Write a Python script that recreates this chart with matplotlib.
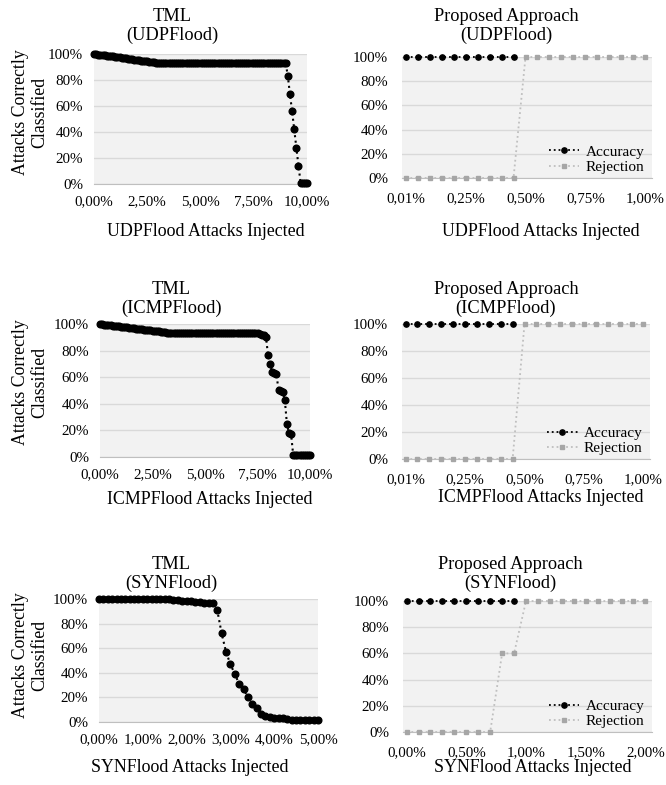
import numpy as np
import matplotlib
matplotlib.use('Agg')
import matplotlib.pyplot as plt

plt.rcParams['font.family'] = ['Liberation Serif', 'DejaVu Serif']

W, H = 666, 785

y_ticks = [0, 20, 40, 60, 80, 100]
y_labels = ['0%', '20%', '40%', '60%', '80%', '100%']

# TML curves: one point per 0,1 % of injected attacks
tml_udp = [
    100, 99.8, 99.6, 99.4, 99.2, 99.0, 98.8, 98.6, 98.4, 98.1,
    97.9, 97.7, 97.4, 97.2, 97.0, 96.7, 96.5, 96.2, 96.0, 95.7,
    95.5, 95.2, 95.0, 94.8, 94.5, 94.3, 94.0, 93.8, 93.6, 93.4,
    93.2, 93.1, 93.0,
    93, 93, 93, 93, 93, 93, 93, 93, 93, 93,
    93, 93, 93, 93, 93, 93, 93, 93, 93, 93,
    93, 93, 93, 93, 93, 93, 93, 93, 93, 93,
    93, 93, 93, 93, 93, 93, 93, 93, 93, 93,
    93, 93, 93, 93, 93, 93, 93, 93, 93, 93,
    93, 93, 93, 93, 93, 93, 93, 93,
    83, 69, 56, 42, 28, 14, 1, 1, 1, 1,
]
tml_icmp = [
    100, 99.8, 99.6, 99.4, 99.2, 99.0, 98.8, 98.6, 98.4, 98.2,
    98.0, 97.8, 97.6, 97.4, 97.2, 97.0, 96.8, 96.6, 96.4, 96.2,
    96.0, 95.8, 95.6, 95.4, 95.2, 95.0, 94.8, 94.6, 94.4, 94.2,
    94.0, 93.8, 93.6, 93.5,
    93.5, 93.5, 93.5, 93.5, 93.5, 93.5, 93.5, 93.5,
    93.4, 93.4, 93.4, 93.4, 93.4, 93.4, 93.4, 93.4,
    93.3, 93.3, 93.3, 93.3, 93.3, 93.3, 93.3, 93.3,
    93.2, 93.2, 93.2, 93.2, 93.2, 93.2, 93.2, 93.2,
    93.1, 93.1, 93.1, 93.1, 93.1,
    93.0, 93.0, 93.0, 93.0, 93.0,
    92.5, 92.0, 91.5,
    90.5, 77, 70, 64, 63, 62.5, 50.5, 50, 49, 43, 25, 18, 17,
    1.5, 1.5, 1.5, 1.5, 1.5, 1.5, 1.5, 1.5, 1.5,
]
tml_syn = [
    100, 100, 100, 100, 100, 100, 100, 100, 100, 100,
    100, 100, 100, 100, 100, 100, 100,
    99.5, 99, 98.5, 98, 98, 97.5, 97.5, 97, 97, 96.5,
    91, 72, 57, 47, 39, 31, 27, 20, 15, 11, 6.5, 5, 4,
    3, 3, 3, 2.5, 2, 2, 2, 2, 2, 2, 2,
]
tml_udp_x = np.arange(len(tml_udp)) * 0.1
tml_icmp_x = np.arange(len(tml_icmp)) * 0.1
tml_syn_x = np.arange(len(tml_syn)) * 0.1

tml10_ticks = [0, 2.5, 5, 7.5, 10]
tml10_labels = ['0,00%', '2,50%', '5,00%', '7,50%', '10,00%']
tml5_ticks = [0, 1, 2, 3, 4, 5]
tml5_labels = ['0,00%', '1,00%', '2,00%', '3,00%', '4,00%', '5,00%']

# proposed approach (categories on the x axis)
prop_cats_1 = ['0,01%', '0,05%', '0,10%', '0,15%', '0,20%', '0,25%', '0,30%',
               '0,35%', '0,40%', '0,45%', '0,50%', '0,55%', '0,60%', '0,65%',
               '0,70%', '0,75%', '0,80%', '0,85%', '0,90%', '0,95%', '1,00%']
prop_cats_2 = ['0,00%', '0,10%', '0,20%', '0,30%', '0,40%', '0,50%', '0,60%',
               '0,70%', '0,80%', '0,90%', '1,00%', '1,10%', '1,20%', '1,30%',
               '1,40%', '1,50%', '1,60%', '1,70%', '1,80%', '1,90%', '2,00%']
acc_udp = [100, 100, 100, 100, 100, 100, 100, 100, 100, 100]
rej_udp = [0, 0, 0, 0, 0, 0, 0, 0, 0, 0,
           100, 100, 100, 100, 100, 100, 100, 100, 100, 100, 100]
acc_icmp = [100, 100, 100, 100, 100, 100, 100, 100, 100, 100]
rej_icmp = [0, 0, 0, 0, 0, 0, 0, 0, 0, 0,
            100, 100, 100, 100, 100, 100, 100, 100, 100, 100, 100]
acc_syn = [100, 100, 100, 100, 100, 100, 100, 100, 100, 100]
rej_syn = [0, 0, 0, 0, 0, 0, 0, 0, 60, 60,
           100, 100, 100, 100, 100, 100, 100, 100, 100, 100, 100]

fig = plt.figure(figsize=(W / 100, H / 100), dpi=100)


def px_axes(x0, y0, x1, y1):
    return fig.add_axes([x0 / W, 1 - y1 / H, (x1 - x0) / W, (y1 - y0) / H])


def style(ax, ypad, xpad):
    ax.set_facecolor('#f2f2f2')
    ax.set_ylim(0, 100)
    ax.set_yticks(y_ticks)
    ax.set_yticklabels(y_labels)
    ax.grid(axis='y', color='#d9d9d9', lw=1)
    ax.set_axisbelow(True)
    for s in ['top', 'right', 'left']:
        ax.spines[s].set_visible(False)
    ax.spines['bottom'].set_color('#bfbfbf')
    ax.tick_params(length=0, labelsize=10.8)
    ax.tick_params(axis='y', pad=ypad)
    ax.tick_params(axis='x', pad=xpad)


def ftext(x, y, s, size=13.2, **kw):
    fig.text(x / W, 1 - y / H, s, ha='center', va='center', fontsize=size,
             linespacing=1.15, **kw)


def tml_plot(box, x, y, ticks, labels, title, xlabel, tpos, xlpos, ylpos):
    ax = px_axes(*box)
    style(ax, 8, 8)
    ax.plot(x, y, ls=':', color='black', lw=1.5, marker='o', ms=4.8,
            clip_on=False, zorder=3)
    ax.set_xlim(x[0], x[-1])
    ax.set_xticks(ticks)
    ax.set_xticklabels(labels)
    ftext(tpos[0], tpos[1], title)
    ftext(xlpos[0], xlpos[1], xlabel, size=12.9)
    ftext(30, ylpos, 'Attacks Correctly\nClassified', size=12.8, rotation=90)
    return ax


def prop_plot(box, cats, acc, rej, title, xlabel, tpos, xlpos):
    ax = px_axes(*box)
    style(ax, 10, 10)
    ax.plot(np.arange(len(acc)), acc, ls=':', color='black', lw=1.3,
            marker='o', ms=3.8, clip_on=False, zorder=3, label='Accuracy')
    ax.plot(np.arange(len(rej)), rej, ls=':', color='#bfbfbf', lw=1.3,
            marker='s', ms=3.4, mfc='#a6a6a6', mec='#a6a6a6',
            clip_on=False, zorder=4, label='Rejection')
    ax.set_xlim(-0.3, len(cats) - 0.45)
    ax.set_xticks(np.arange(len(cats))[::5])
    ax.set_xticklabels(cats[::5])
    ax.legend(loc='lower right', bbox_to_anchor=(1.0, -0.03), frameon=False,
              fontsize=11, handlelength=2.0, handletextpad=0.4,
              labelspacing=0.1, borderaxespad=0.1)
    ftext(tpos[0], tpos[1], title)
    ftext(xlpos[0], xlpos[1], xlabel, size=12.9)
    return ax


tml_plot((94, 54, 307, 184), tml_udp_x, tml_udp, tml10_ticks, tml10_labels,
         'TML\n(UDPFlood)', 'UDPFlood Attacks Injected', (172, 26), (206, 232), 112)
prop_plot((402, 57, 652, 178), prop_cats_1, acc_udp, rej_udp,
          'Proposed Approach\n(UDPFlood)', 'UDPFlood Attacks Injected',
          (506, 26), (541, 231))

tml_plot((100, 324, 310, 457), tml_icmp_x, tml_icmp, tml10_ticks, tml10_labels,
         'TML\n(ICMPFlood)', 'ICMPFlood Attacks Injected', (171, 299), (210, 500), 382)
prop_plot((402, 324, 650, 459), prop_cats_1, acc_icmp, rej_icmp,
          'Proposed Approach\n(ICMPFlood)', 'ICMPFlood Attacks Injected',
          (506, 299), (541, 498))

tml_plot((99, 599, 318, 722), tml_syn_x, tml_syn, tml5_ticks, tml5_labels,
         'TML\n(SYNFlood)', 'SYNFlood Attacks Injected', (171, 574), (190, 767), 655)
prop_plot((403, 601, 652, 732), prop_cats_2, acc_syn, rej_syn,
          'Proposed Approach\n(SYNFlood)', 'SYNFlood Attacks Injected',
          (510, 574), (533, 767))

fig.savefig('out.png', dpi=100)
